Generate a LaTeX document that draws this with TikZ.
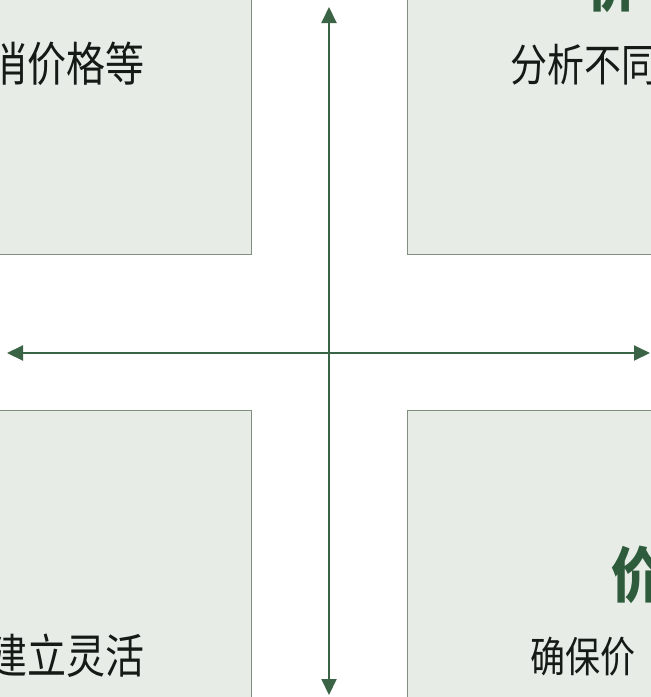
\documentclass[tikz,border=0pt]{standalone}
\usepackage{fontspec}
\setmainfont{Noto Sans CJK SC}
\usetikzlibrary{arrows.meta}
\definecolor{boxfill}{HTML}{E7ECE7}
\definecolor{boxline}{HTML}{7F8F80}
\definecolor{axisgreen}{HTML}{3B6346}
\definecolor{titlegreen}{HTML}{2E5B3B}
\definecolor{bodytext}{HTML}{161A16}
\tikzset{
  box/.style={draw=boxline, fill=boxfill, line width=1pt, inner sep=0pt},
  axis/.style={draw=axisgreen, line width=2pt, {Triangle[length=16pt,width=15pt]}-{Triangle[length=16pt,width=15pt]}},
  bodylabel/.style={inner sep=0pt, text=bodytext},
  titlelabel/.style={inner sep=0pt, text=titlegreen, font=\fontsize{50}{56}\selectfont\bfseries}
}
\begin{document}
\begin{tikzpicture}[x=1pt, y=-1pt]
\useasboundingbox (0,0) rectangle (651,697);
\clip (0,0) rectangle (651,697);
\fill[white] (0,0) rectangle (651,697);
% quadrant boxes
\node[box, minimum width=256pt, minimum height=259pt] (tl) at (123,124.5) {};
\node[box, minimum width=253pt, minimum height=259pt] (tr) at (533.5,124.5) {};
\node[box, minimum width=256pt, minimum height=295pt] (bl) at (123,557.5) {};
\node[box, minimum width=253pt, minimum height=295pt] (br) at (533.5,557.5) {};
% texts
\node[bodylabel, font=\fontsize{39}{44}\selectfont, anchor=east] (tltext) at (145,64) {\scalebox{1}[1.2]{消价格等}};
\node[bodylabel, font=\fontsize{37}{42}\selectfont, anchor=west] (trtext) at (510,65) {\scalebox{1}[1.2]{分析不同}};
\node[bodylabel, font=\fontsize{39}{44}\selectfont, anchor=east] (bltext) at (145,656) {\scalebox{1}[1.2]{建立灵活}};
\node[bodylabel, font=\fontsize{35}{40}\selectfont, anchor=west] (brtext) at (530,657) {\scalebox{1}[1.2]{确保价}};
\node[titlelabel, anchor=west] (trtitle) at (587,-16) {\scalebox{1}[1.2]{价}};
\node[titlelabel, anchor=west] (brtitle) at (611,575) {\scalebox{1}[1.2]{价}};
% axes
\coordinate (L) at (7,353);
\coordinate (R) at (650,353);
\coordinate (T) at (329,7);
\coordinate (B) at (329,695);
\draw[axis] (L) -- (R);
\draw[axis] (T) -- (B);
\end{tikzpicture}
\end{document}
